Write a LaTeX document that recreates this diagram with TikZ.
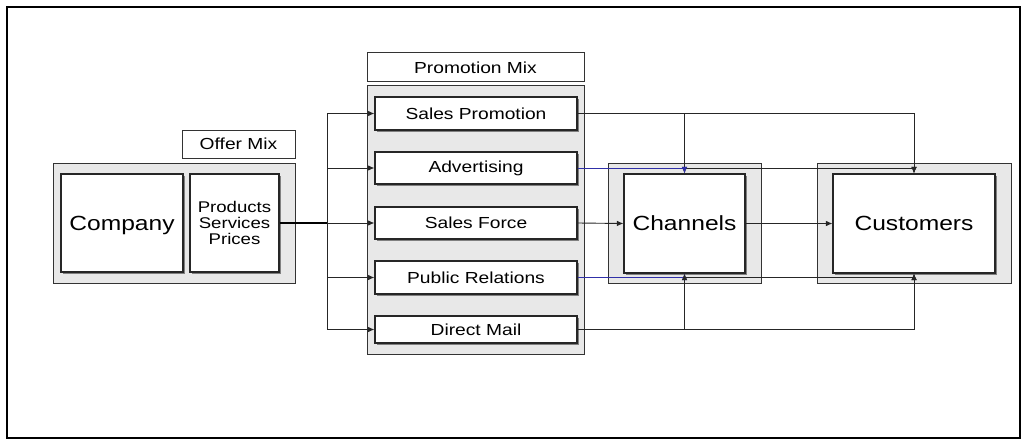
\documentclass[tikz,border=0pt]{standalone}
\usepackage{fontspec}
\setmainfont[FakeStretch=1.2]{Liberation Sans}
\usetikzlibrary{arrows.meta,shadows}
\definecolor{panelgray}{HTML}{E8E8E8}
\definecolor{linkblue}{HTML}{3030A8}
\definecolor{edgegray}{HTML}{333333}

\begin{document}
\begin{tikzpicture}[x=1pt,y=-1pt,
  >={Latex[length=6.5pt,width=5.5pt]},
  panel/.style={draw=edgegray,fill=panelgray,line width=1pt,inner sep=0pt},
  tag/.style={draw=edgegray,fill=white,line width=1pt,inner sep=0pt,font=\fontsize{16}{18}\selectfont},
  item/.style={draw=black!85,fill=white,line width=1.1pt,inner sep=0pt,minimum width=202pt,
    drop shadow={shadow xshift=2.2pt,shadow yshift=-2.2pt,fill=black!50,opacity=1},
    font=\fontsize{16}{18}\selectfont},
  big/.style={item,font=\fontsize{20.5}{22}\selectfont,text depth=0pt},
  link/.style={draw=black!85,line width=0.9pt}]
\useasboundingbox (0,0) rectangle (1027,441);
\draw[line width=2.8pt] (7,7) rectangle (1020,438);

% offer mix
\node[tag,minimum width=113pt,minimum height=28pt] (offertag) at (238.5,144) {Offer Mix};
\node[panel,minimum width=242pt,minimum height=120pt] (offer) at (174,223) {};
\node[big,minimum width=122pt,minimum height=98pt] (company) at (122,223) {Company};
\node[item,minimum width=89pt,minimum height=98pt,align=center,font=\fontsize{15.5}{16}\selectfont] (products) at (234.5,223) {Products\\Services\\Prices};

% promotion mix
\node[tag,minimum width=217pt,minimum height=29pt] (promotag) at (475.5,67.5) {Promotion Mix};
\node[panel,minimum width=217pt,minimum height=268pt] (promo) at (475.5,220) {};
\node[item,minimum height=33pt] (salesprom) at (476,113.5) {Sales Promotion};
\node[item,minimum height=32pt] (advert) at (476,168) {Advertising};
\node[item,minimum height=32pt] (salesforce) at (476,223) {Sales Force};
\node[item,minimum height=33pt] (pubrel) at (476,277.5) {Public Relations};
\node[item,minimum height=27pt] (mail) at (476,329.5) {Direct Mail};

% channels and customers
\node[panel,minimum width=153pt,minimum height=120pt] (chanpanel) at (684.5,223) {};
\node[big,minimum width=121pt,minimum height=99pt] (channels) at (684.5,223.5) {Channels};
\node[panel,minimum width=194pt,minimum height=120pt] (custpanel) at (914,223) {};
\node[big,minimum width=162pt,minimum height=99pt] (customers) at (914,223.5) {Customers};

% links
\coordinate (split) at (327,223);
\draw[line width=1.8pt] (products.east) -- (split);
\foreach \n in {salesprom,advert,salesforce,pubrel,mail}
  \draw[link,->] (split) |- (\n.west);

\draw[link,->] (salesprom.east) -| (channels.north);
\draw[link,->] (salesprom.east) -| (customers.north);
\draw[link,->] (advert.east) -| (customers.north);
\draw[link,->,draw=linkblue,line width=1pt] (advert.east) -| (channels.north);
\draw[link,->] (salesforce.east) -- (channels.west);
\draw[link,->] (channels.east) -- (customers.west);
\draw[link,->] (pubrel.east) -| (customers.south);
\draw[link,->,draw=linkblue,line width=1pt] (pubrel.east) -| (channels.south);
\draw[link,->] (mail.east) -| (channels.south);
\draw[link,->] (mail.east) -| (customers.south);
\end{tikzpicture}
\end{document}
